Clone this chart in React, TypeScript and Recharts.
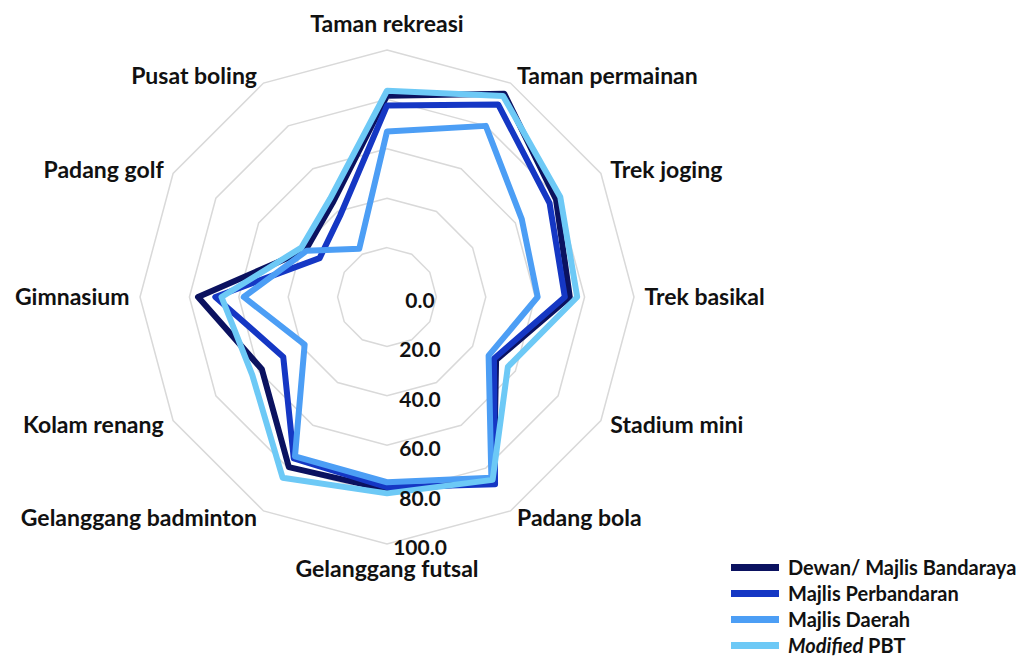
import { Legend, PolarAngleAxis, PolarGrid, PolarRadiusAxis, Radar, RadarChart } from "recharts";

const categories = [
  "Taman rekreasi",
  "Taman permainan",
  "Trek joging",
  "Trek basikal",
  "Stadium mini",
  "Padang bola",
  "Gelanggang futsal",
  "Gelanggang badminton",
  "Kolam renang",
  "Gimnasium",
  "Padang golf",
  "Pusat boling",
];

const dewan = [81.5, 95, 79, 74, 51, 86.5, 78, 79.5, 58.5, 76.5, 38, 44];
const perbandaran = [77.5, 90, 76, 72, 50, 87.5, 77, 75.5, 48.5, 69.5, 31.5, 38];
const daerah = [67, 80, 63, 61, 47.5, 84.5, 75, 74.5, 38.5, 58, 37.5, 22.5];
const modified = [83.5, 94, 81, 77, 56.5, 85.5, 79.5, 84.5, 63, 67, 40, 46];

const radiusTicks = [0, 20, 40, 60, 80, 100];

const series = [
  { key: "dewan", name: "Dewan/ Majlis Bandaraya", color: "#0b1260" },
  { key: "perbandaran", name: "Majlis Perbandaran", color: "#1537c4" },
  { key: "daerah", name: "Majlis Daerah", color: "#4c9ef5" },
  { key: "modified", name: "Modified PBT", color: "#6dc9f6" },
];

const rows = categories.map((cat, i) => ({
  cat,
  dewan: dewan[i],
  perbandaran: perbandaran[i],
  daerah: daerah[i],
  modified: modified[i],
}));

const FONT = "Lato, 'Open Sans', sans-serif";
const CX = 387;
const CY = 297;

function AngleTick(props: any) {
  const { x, y, payload, textAnchor } = props;
  let dx = 0;
  let dy = 8;
  if (textAnchor === "middle") {
    dy = y < CY ? -10 : 25;
  } else {
    dx = textAnchor === "start" ? 2.5 : -2.5;
  }
  return (
    <text
      x={x + dx}
      y={y + dy}
      textAnchor={textAnchor}
      fill="#111"
      fontFamily={FONT}
      fontWeight={700}
      fontSize={23}
    >
      {payload.value}
    </text>
  );
}

function RadiusTick(props: any) {
  const { x, y, payload } = props;
  return (
    <text
      x={x + 33}
      y={y + 11}
      textAnchor="middle"
      fill="#111"
      fontFamily={FONT}
      fontWeight={700}
      fontSize={21}
    >
      {Number(payload.value).toFixed(1)}
    </text>
  );
}

function LegendBox() {
  return (
    <div style={{ fontFamily: FONT, fontWeight: 700, fontSize: 20, color: "#111" }}>
      {series.map((s) => (
        <div key={s.key} style={{ display: "flex", alignItems: "center", height: 26 }}>
          <span
            style={{ display: "inline-block", width: 48, height: 7, background: s.color, marginRight: 9 }}
          />
          {s.key === "modified" ? (
            <span>
              <i>Modified</i> PBT
            </span>
          ) : (
            <span>{s.name}</span>
          )}
        </div>
      ))}
    </div>
  );
}

export default function App() {
  return (
    <>
      <style>{"body{margin:0;overflow:hidden}"}</style>
      <RadarChart
        width={1026}
        height={660}
        data={rows}
        cx={CX}
        cy={CY}
        outerRadius={247}
        startAngle={90}
        endAngle={-270}
        margin={{ top: 0, right: 0, bottom: 0, left: 0 }}
      >
        <PolarGrid gridType="polygon" radialLines={false} stroke="#d9d9d9" strokeWidth={1.5} />
        <PolarAngleAxis dataKey="cat" tick={AngleTick} tickLine={false} axisLine={false} />
        <PolarRadiusAxis
          angle={-90}
          domain={[0, 100]}
          ticks={radiusTicks}
          tick={RadiusTick}
          axisLine={false}
          tickLine={false}
        />
        {series.map((s) => (
          <Radar
            key={s.key}
            dataKey={s.key}
            name={s.name}
            stroke={s.color}
            strokeWidth={6}
            strokeLinejoin="round"
            fill="none"
            fillOpacity={0}
            dot={false}
            isAnimationActive={false}
          />
        ))}
        <Legend
          content={LegendBox}
          wrapperStyle={{ position: "absolute", left: 731, top: 554, width: "auto", bottom: "auto" }}
        />
      </RadarChart>
    </>
  );
}
